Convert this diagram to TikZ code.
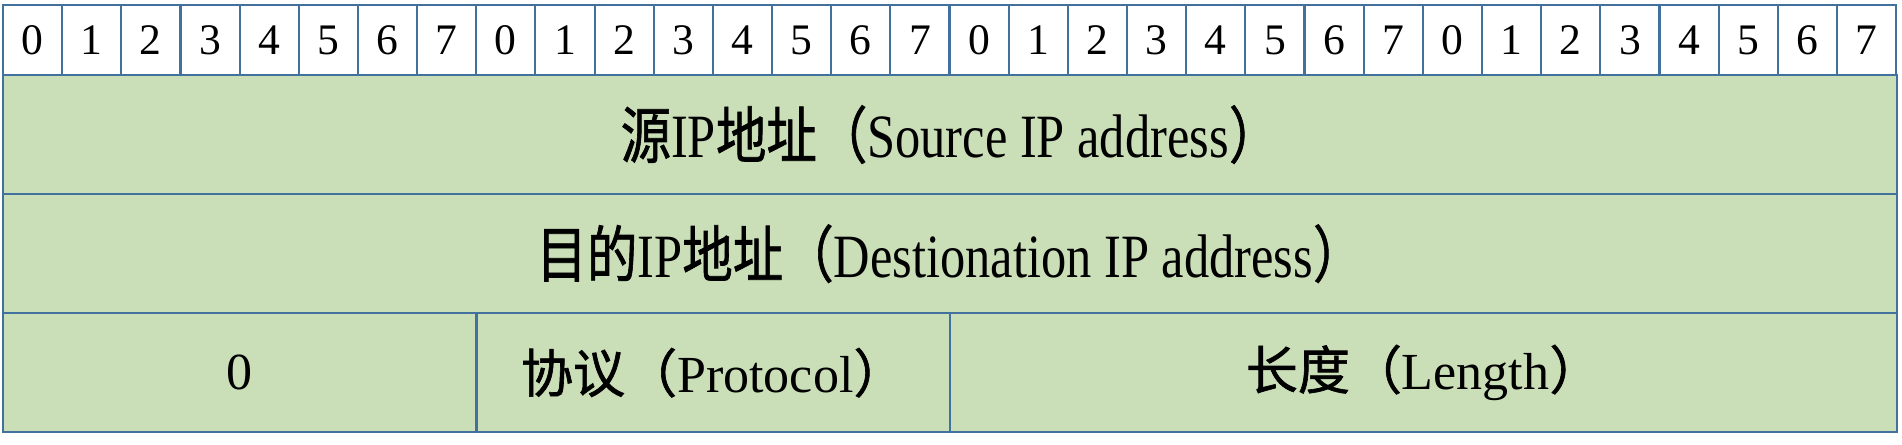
\documentclass[tikz,border=0pt]{standalone}
\usepackage{fontspec}
\setmainfont{Liberation Serif}
\newfontfamily\cjk[FakeBold=1.2]{Noto Sans CJK SC}
\usetikzlibrary{positioning}

\definecolor{fieldgreen}{HTML}{CADFB8}
\definecolor{lineblue}{HTML}{41719C}

\tikzset{
    bitcell/.style={draw=lineblue, line width=0.6pt, fill=white, minimum width=0.5916cm,
        minimum height=0.70cm, inner sep=0pt, outer sep=0pt, font=\fontsize{12.4}{14}\selectfont},
    field/.style={draw=lineblue, line width=0.6pt, fill=fieldgreen, minimum height=1.19cm,
        inner sep=0pt, outer sep=0pt, font=\fontsize{14.8}{17}\selectfont},
    widefield/.style={field, minimum width=18.93cm, font=\fontsize{17.5}{20}\selectfont}
}

\begin{document}
\begin{tikzpicture}[x=0.01cm, y=-0.01cm]
        \useasboundingbox (0,0) rectangle (1902,444);
        % header: bit numbers
        \foreach \i in {0,...,31} {
            \pgfmathtruncatemacro\bitno{mod(\i,8)}
            \node [bitcell] (b\i) at ({3+59.16*(\i+0.5)}, 40) {\bitno};
        }
        \node [widefield, anchor=north west] (src) at (b0.south west) {\scalebox{0.82}[1]{{\cjk 源}IP{\cjk 地址（}Source IP address{\cjk ）}}};
        \node [widefield, anchor=north west] (dst) at (src.south west) {\scalebox{0.82}[1]{{\cjk 目的}IP{\cjk 地址（}Destionation IP address{\cjk ）}}};
        \node [field, minimum width=4.7328cm, anchor=north west] (zero) at (dst.south west) {0};
        \node [field, minimum width=4.7328cm, anchor=north west] (proto) at (zero.north east) {{\cjk 协议（}Protocol{\cjk ）}};
        \node [field, minimum width=9.4656cm, anchor=north west] (len) at (proto.north east) {{\cjk 长度（}Length{\cjk ）}};
\end{tikzpicture}
\end{document}
